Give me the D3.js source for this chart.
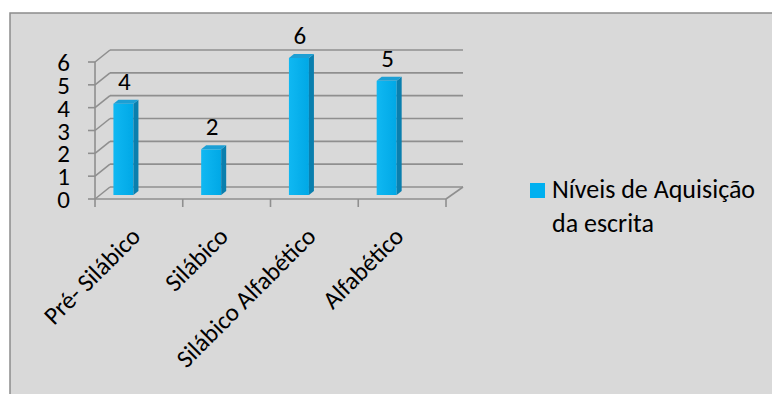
<html>
<script src="https://d3js.org/d3.v7.min.js"></script>
<body style="margin:0">
<script>
var categories = ['Pré- Silábico', 'Silábico', 'Silábico Alfabético', 'Alfabético']
var values = [4, 2, 6, 5]
var yTicks = [0, 1, 2, 3, 4, 5, 6]
var seriesName = ['Níveis de Aquisição', 'da escrita']

var width = 772, height = 394
var font = 'Calibri, Carlito, "Open Sans", sans-serif'
var svg = d3.select('body').append('svg').attr('width', width).attr('height', height)

// chart area with border
svg.append('rect').attr('x', 0).attr('y', 0).attr('width', width).attr('height', height).attr('fill', 'white')
svg.append('rect').attr('x', 10).attr('y', 13).attr('width', width).attr('height', height)
    .attr('fill', '#d9d9d9').attr('stroke', '#8c8c8c').attr('stroke-width', 1.5)

// 3D depth offset of back wall
var dx = 15, dy = -12
var x = d3.scaleBand().domain(categories).range([95, 446])
var y = d3.scaleLinear().domain([0, 6]).range([199, 62])
var grid = '#8f8f8f'

var g = svg.append('g')
// back wall gridlines + side wall diagonals
yTicks.forEach(function(t){
    g.append('line').attr('x1', 95 + dx).attr('x2', 463).attr('y1', y(t) + dy).attr('y2', y(t) + dy)
        .attr('stroke', grid).attr('stroke-width', 1.6)
    g.append('line').attr('x1', 95).attr('x2', 95 + dx).attr('y1', y(t)).attr('y2', y(t) + dy)
        .attr('stroke', grid).attr('stroke-width', 1.6)
    g.append('line').attr('x1', 88).attr('x2', 95).attr('y1', y(t)).attr('y2', y(t))
        .attr('stroke', grid).attr('stroke-width', 1.6)
    g.append('text').attr('x', 70).attr('y', y(t) + 9).attr('text-anchor', 'end')
        .style('font-family', font).style('font-size', '25px').attr('fill', 'black').text(t)
})
// front axis and floor
g.append('line').attr('x1', 95).attr('x2', 95).attr('y1', y(6)).attr('y2', y(0)).attr('stroke', grid).attr('stroke-width', 1.6)
g.append('line').attr('x1', 95).attr('x2', 446).attr('y1', y(0)).attr('y2', y(0)).attr('stroke', grid).attr('stroke-width', 1.6)
g.append('line').attr('x1', 446).attr('x2', 446 + dx + 2).attr('y1', y(0)).attr('y2', y(0) + dy).attr('stroke', grid).attr('stroke-width', 1.6)
var bounds = categories.map(function(c){ return x(c) }).concat([x.range()[1]])
bounds.forEach(function(b){
    g.append('line').attr('x1', b).attr('x2', b).attr('y1', y(0)).attr('y2', y(0) + 8).attr('stroke', grid).attr('stroke-width', 1.6)
})

// bars
var bw = 20, bdx = 5, bdy = -4
var bars = g.selectAll('g.bar').data(values).enter().append('g').attr('class', 'bar')
function bx(d, i){ return x(categories[i]) + x.bandwidth() * 0.21 }
var grad = svg.append('defs').append('linearGradient').attr('id', 'front').attr('x1', 0).attr('x2', 1).attr('y1', 0).attr('y2', 0)
grad.append('stop').attr('offset', '0%').attr('stop-color', '#10b8f2')
grad.append('stop').attr('offset', '100%').attr('stop-color', '#00a8e6')
bars.append('rect').attr('x', bx).attr('y', function(d){ return y(d) - 4 })
    .attr('width', bw).attr('height', function(d){ return y(0) - y(d) })
    .attr('fill', 'url(#front)')
bars.append('path').attr('d', function(d, i){
    var l = bx(d, i) + bw, t = y(d) - 4, b = y(0) - 4
    return 'M' + l + ',' + t + 'L' + (l + bdx) + ',' + (t + bdy) + 'L' + (l + bdx) + ',' + (b + bdy) + 'L' + l + ',' + b + 'Z'
}).attr('fill', '#0a7fae')
bars.append('path').attr('d', function(d, i){
    var l = bx(d, i), t = y(d) - 4
    return 'M' + l + ',' + t + 'L' + (l + bdx) + ',' + (t + bdy) + 'L' + (l + bw + bdx) + ',' + (t + bdy) + 'L' + (l + bw) + ',' + t + 'Z'
}).attr('fill', '#1c9fd4')
bars.append('text').attr('x', function(d, i){ return bx(d, i) + bw / 2 + 1 })
    .attr('y', function(d){ return y(d) - 18 }).attr('text-anchor', 'middle')
    .style('font-family', font).style('font-size', '25px').text(function(d){ return d })

// category labels
categories.forEach(function(c){
    var cx = x(c) + x.bandwidth() / 2 + 3, cy = 238
    g.append('text').attr('transform', 'translate(' + cx + ',' + cy + ') rotate(-45)')
        .attr('text-anchor', 'end').style('font-family', font).style('font-size', '25px').text(c)
})

// legend
svg.append('rect').attr('x', 530).attr('y', 183).attr('width', 15).attr('height', 15).attr('fill', '#00b0f0')
seriesName.forEach(function(s, i){
    svg.append('text').attr('x', 552).attr('y', 198 + i * 34).style('font-family', font)
        .style('font-size', '26px').text(s)
})
</script>
</body>
</html>
